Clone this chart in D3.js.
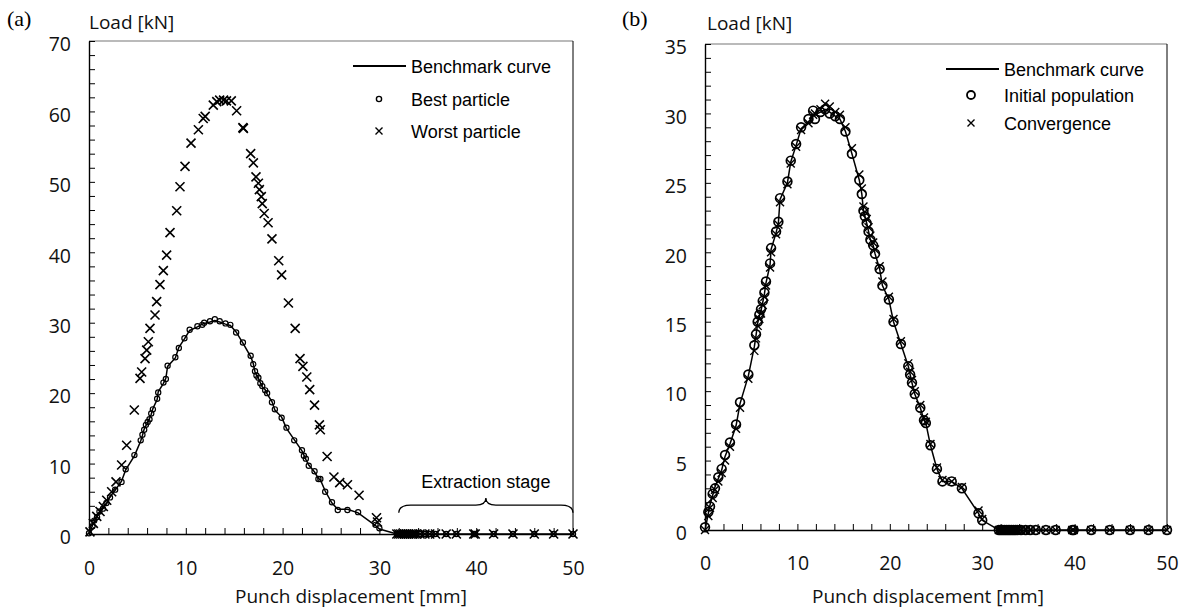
<!DOCTYPE html>
<html>
<head>
<meta charset="utf-8">
<script src="https://cdn.jsdelivr.net/npm/d3@7"></script>
<style>
  body { margin: 0; background: #fff; }
  svg { display: block; }
</style>
</head>
<body>
<div id="visContainer"></div>
<script>
// displacement samples of the forming stage [mm]
const disp = [0, 0.36, 0.54, 0.83, 1.08, 1.44, 1.8, 2.17, 2.7, 3.36, 3.79, 4.69, 5.34, 5.52, 5.7, 5.88, 6.06, 6.25, 6.43, 6.6,
    7.04, 7.15, 7.69, 7.94, 8.12, 8.92, 9.28, 9.86, 10.4, 11.2, 11.7, 11.9, 12.5, 13.0, 13.5, 14.1, 14.6, 15.2, 15.9, 16.7,
    16.97, 17.15, 17.3, 17.5, 17.7, 17.9, 18.2, 18.4, 18.9, 19.2, 19.9, 20.4, 21.2, 22.0, 22.2, 22.4, 22.7, 23.3, 23.7, 23.9,
    24.4, 25.1, 25.7, 26.7, 27.8, 29.6, 30.0]

// extraction stage samples (load is zero there)
const extractionDisp = [31.8, 32.0, 32.2, 32.4, 32.6, 32.8, 33.0, 33.2, 33.4, 33.6, 33.8, 34.2, 34.7, 35.2, 35.8, 36.9,
    37.95, 39.75, 39.9, 41.8, 43.8, 46.0, 48.0, 50.0]
const extractionLoad = [0, 0, 0, 0, 0, 0, 0, 0, 0, 0, 0, 0, 0, 0, 0, 0, 0, 0, 0, 0, 0, 0, 0, 0]

// loads [kN]
const benchLoad = [0, 1.2, 1.8, 2.5, 3.1, 3.7, 4.3, 5.3, 6.2, 7.5, 9.1, 11.1, 13.2, 14.0, 14.9, 15.4, 15.8, 16.4, 17.0, 17.8,
    19.1, 20.2, 21.4, 22.1, 23.8, 25.0, 26.5, 27.7, 28.9, 29.4, 29.8, 29.9, 30.1, 30.3, 30.1, 29.8, 29.6, 28.7, 27.1, 25.2,
    24.2, 23.0, 22.6, 22.1, 21.5, 20.9, 20.5, 19.9, 18.8, 17.6, 16.6, 15.0, 13.4, 11.8, 11.2, 10.6, 9.8, 8.8, 7.9, 7.7,
    6.1, 4.4, 3.5, 3.5, 3.0, 1.2, 0.7]

const bestLoad = [0.1, 1.1, 1.9, 2.4, 3.2, 3.6, 4.4, 5.2, 6.3, 7.4, 9.2, 11.2, 13.3, 14.1, 14.8, 15.5, 15.9, 16.3, 17.1, 17.7,
    19.2, 20.1, 21.5, 22.0, 23.9, 25.1, 26.4, 27.8, 29.0, 29.5, 29.7, 30.0, 30.2, 30.5, 30.2, 29.9, 29.7, 28.6, 27.2, 25.3,
    24.1, 23.1, 22.5, 22.2, 21.4, 21.0, 20.4, 20.0, 18.7, 17.7, 16.5, 15.1, 13.3, 11.9, 11.1, 10.7, 9.7, 8.9, 7.8, 7.8,
    6.0, 4.5, 3.4, 3.4, 3.1, 1.3, 0.8]

const worstDisp = [0.1, 0.45, 0.8, 1.14, 1.48, 1.83, 2.34, 2.79, 3.37, 3.89, 4.68, 5.27, 5.44, 5.79, 5.96, 6.13, 6.3, 6.82,
    6.99, 7.33, 7.68, 8.02, 8.37, 9.06, 9.4, 9.92, 10.54, 11.3, 11.8, 12.0, 12.84, 13.2, 13.5, 13.9, 14.2, 14.7, 15.25, 15.9,
    15.95, 16.7, 16.98, 17.25, 17.5, 17.6, 17.8, 17.9, 18.1, 18.5, 18.9, 19.6, 19.9, 20.6, 21.3, 21.8, 22.1, 22.5, 22.8,
    23.3, 23.8, 23.9, 24.6, 25.3, 25.9, 26.7, 27.9, 29.7, 29.8]
const worstLoad = [0.3, 1.5, 2.5, 3.2, 3.9, 4.8, 6.0, 7.4, 9.8, 12.6, 17.6, 22.1, 23.0, 24.9, 26.1, 27.3, 29.2, 31.1,
    33.0, 35.4, 37.4, 39.6, 42.8, 45.9, 49.3, 52.2, 55.5, 57.4, 59.0, 59.3, 60.9, 61.4, 61.6, 61.6, 61.5, 61.5, 60.1, 57.7,
    57.6, 54.0, 52.7, 50.7, 49.8, 48.9, 47.9, 46.9, 45.5, 44.2, 41.9, 38.8, 36.8, 32.8, 29.2, 24.9, 23.8, 22.3, 20.5,
    18.3, 15.5, 14.8, 11.0, 8.1, 7.3, 7.0, 5.5, 2.3, 1.7]

const initLoad = [0.2, 1.3, 1.7, 2.6, 3.0, 3.8, 4.4, 5.4, 6.3, 7.6, 9.2, 11.2, 13.3, 14.1, 15.0, 15.5, 15.9, 16.5, 17.1, 17.9,
    19.2, 20.3, 21.5, 22.2, 23.9, 25.1, 26.6, 27.8, 29.0, 29.6, 30.2, 29.6, 30.1, 30.3, 30.0, 29.8, 29.6, 28.7, 27.1, 25.2,
    24.2, 23.0, 22.6, 22.1, 21.5, 20.9, 20.5, 19.9, 18.8, 17.6, 16.6, 15.0, 13.4, 11.8, 11.2, 10.6, 9.8, 8.8, 7.9, 7.7,
    6.1, 4.4, 3.5, 3.5, 3.0, 1.2, 0.7]

const convLoad = [0.0, 1.0, 1.6, 2.3, 2.9, 3.5, 4.1, 5.0, 6.0, 7.3, 8.8, 10.9, 12.9, 13.8, 14.7, 15.2, 15.6, 16.2, 16.8, 17.6,
    18.9, 20.0, 21.3, 22.0, 23.6, 24.9, 26.4, 27.6, 28.8, 29.3, 29.9, 30.0, 30.3, 30.7, 30.5, 30.1, 29.9, 29.0, 27.5, 25.6,
    24.6, 23.3, 22.9, 22.4, 21.8, 21.2, 20.7, 20.2, 19.0, 17.9, 16.8, 15.2, 13.6, 12.0, 11.4, 10.8, 10.0, 9.0, 8.1, 7.8,
    6.2, 4.5, 3.6, 3.5, 3.1, 1.4, 0.8]

const legendA = ["Benchmark curve", "Best particle", "Worst particle"]
const legendB = ["Benchmark curve", "Initial population", "Convergence"]

const W = 1184, H = 609
const tickFont = "'Open Sans', sans-serif"
const legFont = "'Liberation Sans', Arial, sans-serif"

const svg = d3.select("#visContainer").append("svg")
    .attr("width", W)
    .attr("height", H)

function pts(xs, ys) {
    return xs.map((d, i) => ({ x: d, y: ys[i] }))
}

function cross(s) {
    return `M${-s},${-s}L${s},${s}M${-s},${s}L${s},${-s}`
}

function drawPanel(cfg) {
    const x = d3.scaleLinear().domain([0, 50]).range([cfg.left, cfg.right])
    const y = d3.scaleLinear().domain([0, cfg.yMax]).range([cfg.bottom, cfg.top])
    const g = svg.append("g")

    // frame top / right
    g.append("line")
        .attr("x1", cfg.left).attr("x2", cfg.right)
        .attr("y1", cfg.top).attr("y2", cfg.top)
        .attr("stroke", "#777").attr("stroke-width", 1.2)
    g.append("line")
        .attr("x1", cfg.right).attr("x2", cfg.right)
        .attr("y1", cfg.top).attr("y2", cfg.bottom)
        .attr("stroke", "#000").attr("stroke-width", 1)

    const yAxis = g.append("g")
        .attr("transform", `translate(${cfg.left},0)`)
        .call(d3.axisLeft(y)
            .tickValues(d3.range(0, cfg.yMax + 0.001, cfg.yMinor))
            .tickSizeInner(-6).tickSizeOuter(0).tickPadding(18)
            .tickFormat(d => Math.abs(d % cfg.yMajor) < 1e-6 ? d : ""))
    yAxis.selectAll("text").attr("dy", "0.5em")

    g.append("g")
        .attr("transform", `translate(0,${cfg.bottom})`)
        .call(d3.axisBottom(x)
            .tickValues(d3.range(0, 50.001, 2))
            .tickSizeInner(-6).tickSizeOuter(0).tickPadding(cfg.xPad)
            .tickFormat(d => d % 10 === 0 ? d : ""))

    g.selectAll(".domain").attr("stroke", "#000").attr("stroke-width", 1.4)
    g.selectAll(".tick line").attr("stroke", "#000").attr("stroke-width", 1)
    g.selectAll(".tick text")
        .style("font-family", tickFont).style("font-size", "19.5px").attr("fill", "#111")

    // titles
    g.append("text")
        .attr("x", cfg.yTitle[0]).attr("y", cfg.yTitle[1])
        .style("font-family", tickFont).style("font-size", "19px").attr("fill", "#111")
        .text("Load [kN]")
    g.append("text")
        .attr("x", cfg.xTitle[0]).attr("y", cfg.xTitle[1])
        .style("font-family", tickFont).style("font-size", "19px").attr("fill", "#111")
        .text("Punch displacement [mm]")
    g.append("text")
        .attr("x", cfg.tag[0]).attr("y", cfg.tag[1])
        .style("font-family", "'Liberation Serif', 'Times New Roman', serif").style("font-size", "22px")
        .text(cfg.tagText)

    // benchmark curve
    const line = d3.line().x(d => x(d.x)).y(d => y(d.y))
    const benchPts = pts(disp.concat(extractionDisp), benchLoad.concat(extractionLoad))
    g.append("path")
        .datum(benchPts)
        .attr("d", line)
        .attr("fill", "none").attr("stroke", "#000").attr("stroke-width", 1.5)

    // circles
    g.append("g").selectAll("circle")
        .data(cfg.circles)
        .join("circle")
        .attr("cx", d => x(d.x)).attr("cy", d => y(d.y))
        .attr("r", cfg.circR)
        .attr("fill", "none").attr("stroke", "#000").attr("stroke-width", cfg.circW)

    // crosses
    g.append("g").selectAll("path")
        .data(cfg.crosses)
        .join("path")
        .attr("transform", d => `translate(${x(d.x)},${y(d.y)})`)
        .attr("d", cross(cfg.crossS))
        .attr("fill", "none").attr("stroke", "#000").attr("stroke-width", cfg.crossW)

    // legend
    const L = cfg.legend
    g.append("line")
        .attr("x1", L.lineX[0]).attr("x2", L.lineX[1])
        .attr("y1", L.ys[0]).attr("y2", L.ys[0])
        .attr("stroke", "#000").attr("stroke-width", 1.8)
    g.append("circle")
        .attr("cx", L.markX).attr("cy", L.ys[1]).attr("r", L.circR)
        .attr("fill", "none").attr("stroke", "#000").attr("stroke-width", L.circW)
    g.append("path")
        .attr("transform", `translate(${L.markX},${L.ys[2]})`)
        .attr("d", cross(L.crossS))
        .attr("stroke", "#000").attr("stroke-width", 1.4)
    g.append("g").selectAll("text")
        .data(L.labels)
        .join("text")
        .attr("x", L.textX).attr("y", (d, i) => L.ys[i] + 6.5)
        .style("font-family", legFont).style("font-size", "18px")
        .text(d => d)

    return { x, y, g }
}

const panelA = drawPanel({
    left: 89, right: 573, top: 41, bottom: 534, yMax: 70, yMinor: 2, yMajor: 10, xPad: 27,
    yTitle: [89, 29], xTitle: [235, 603], tag: [7, 26], tagText: "(a)",
    circles: pts(disp.concat(extractionDisp), bestLoad.concat(extractionLoad)),
    crosses: pts(worstDisp.concat(extractionDisp), worstLoad.concat(extractionLoad)),
    circR: 2.6, circW: 1.2, crossS: 4.5, crossW: 1.6,
    legend: { lineX: [353, 406], markX: 379, textX: 411, ys: [66, 99, 131], labels: legendA, circR: 2.6, circW: 1.4, crossS: 3.5 }
})

const panelB = drawPanel({
    left: 705, right: 1167, top: 44, bottom: 530, yMax: 35, yMinor: 1, yMajor: 5, xPad: 26,
    yTitle: [707, 30], xTitle: [812, 603], tag: [622, 26], tagText: "(b)",
    circles: pts(disp.concat(extractionDisp), initLoad.concat(extractionLoad)),
    crosses: pts(disp.concat(extractionDisp), convLoad.concat(extractionLoad)),
    circR: 4.4, circW: 1.7, crossS: 4, crossW: 1.4,
    legend: { lineX: [946, 999], markX: 971, textX: 1004, ys: [69, 95, 123], labels: legendB, circR: 4, circW: 1.8, crossS: 3.5 }
})

// extraction stage brace in panel (a)
const xa = panelA.x, ya = panelA.y
const bx0 = xa(32), bx1 = xa(50), bm = xa(41)
const by = ya(3.0), bs = ya(4.1), bt = ya(5.1)
panelA.g.append("path")
    .attr("d", `M${bx0},${by}Q${bx0},${bs} ${bx0 + 12},${bs}L${bm - 10},${bs}Q${bm},${bs} ${bm},${bt}` +
        `Q${bm},${bs} ${bm + 10},${bs}L${bx1 - 12},${bs}Q${bx1},${bs} ${bx1},${by}`)
    .attr("fill", "none").attr("stroke", "#000").attr("stroke-width", 1.3)
panelA.g.append("text")
    .attr("x", bm).attr("y", ya(6.5))
    .attr("text-anchor", "middle")
    .style("font-family", legFont).style("font-size", "18px")
    .text("Extraction stage")
</script>
</body>
</html>
